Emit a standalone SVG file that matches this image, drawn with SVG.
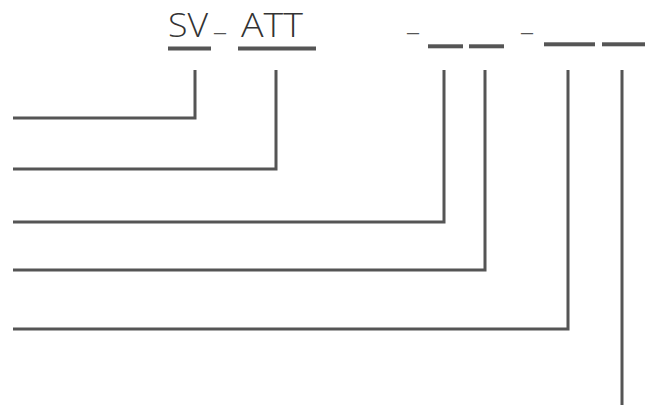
<svg xmlns="http://www.w3.org/2000/svg" width="653" height="407" viewBox="0 0 653 407">
<style>
.code{font-family:"Open Sans","Liberation Sans",sans-serif;font-size:33px;font-weight:300;fill:#333}
.sep{font-family:"Open Sans","Liberation Sans",sans-serif;font-size:22px;font-weight:400;fill:#555}
.slot{fill:#555}
.conn{fill:none;stroke:#555;stroke-width:3;stroke-linejoin:miter;stroke-linecap:butt}
</style>
<rect width="653" height="407" fill="#fff"/>
<g id="code-text">
<text class="code" x="168" y="37" textLength="40" lengthAdjust="spacingAndGlyphs">SV</text>
<text class="code" x="241" y="37" textLength="62" lengthAdjust="spacingAndGlyphs">ATT</text>
<text class="sep" x="214" y="31" textLength="12" lengthAdjust="spacingAndGlyphs">_</text>
<text class="sep" x="407" y="31" textLength="12" lengthAdjust="spacingAndGlyphs">_</text>
<text class="sep" x="521" y="31" textLength="12" lengthAdjust="spacingAndGlyphs">_</text>
</g>
<g id="slot-sv"><rect class="slot" x="168" y="46.5" width="43" height="4"/></g>
<g id="slot-att"><rect class="slot" x="238" y="46.5" width="78" height="4"/></g>
<g id="slot-3"><rect class="slot" x="428" y="44.3" width="35" height="4"/></g>
<g id="slot-4"><rect class="slot" x="469" y="44.3" width="35" height="4"/></g>
<g id="slot-5"><rect class="slot" x="544" y="42.3" width="51" height="4"/></g>
<g id="slot-6"><rect class="slot" x="602" y="42.3" width="43" height="4"/></g>
<g id="connectors">
<polyline class="conn" points="13,118 195,118 195,70"/>
<polyline class="conn" points="13,169 276,169 276,70"/>
<polyline class="conn" points="13,222 444,222 444,70"/>
<polyline class="conn" points="13,270 485,270 485,70"/>
<polyline class="conn" points="13,329 568,329 568,70"/>
<polyline class="conn" points="622,70 622,405"/>
</g>
</svg>
